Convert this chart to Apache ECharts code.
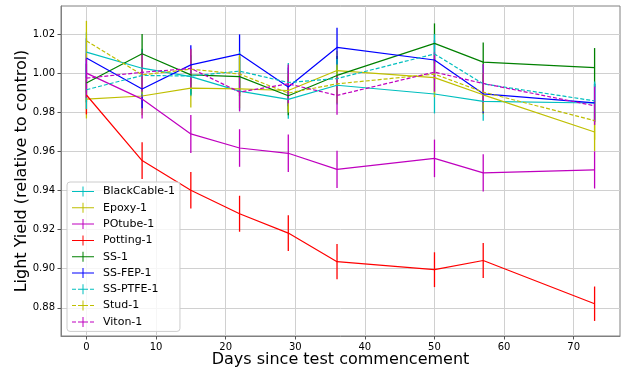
<!DOCTYPE html>
<html><head><meta charset="utf-8">
<script src="https://cdn.jsdelivr.net/npm/echarts@6/dist/echarts.min.js"></script>
<style>html,body{margin:0;padding:0;background:#fff}#c{width:621px;height:371px}</style>
</head><body><div id="c"></div>
<script>
const days = [0, 8, 15, 22, 29, 36, 50, 57, 73];

const blackCable = [1.0107, 1.0025, 0.9982, 0.9908, 0.9866, 0.9938, 0.9893, 0.9855, 0.9847];
const epoxy      = [0.9867, 0.9883, 0.9923, 0.9919, 0.9911, 1.0013, 0.9977, 0.9889, 0.9699];
const poTube     = [1.0000, 0.9867, 0.9689, 0.9617, 0.9590, 0.9508, 0.9564, 0.9490, 0.9505];
const potting    = [0.9888, 0.9553, 0.9401, 0.9281, 0.9182, 0.9036, 0.8995, 0.9042, 0.8821];
const ss         = [0.9949, 1.0099, 0.9991, 0.9982, 0.9884, 0.9988, 1.0152, 1.0056, 1.0028];
const ssFep      = [1.0077, 0.9919, 1.0042, 1.0097, 0.9929, 1.0131, 1.0067, 0.9894, 0.9848];
const ssPtfe     = [0.9915, 0.9988, 0.9985, 1.0010, 0.9952, 0.9972, 1.0098, 0.9945, 0.9858];
const stud       = [1.0165, 0.9991, 1.0020, 0.9995, 0.9898, 0.9945, 0.9995, 0.9903, 0.9757];
const viton      = [0.9974, 1.0004, 1.0024, 0.9903, 0.9945, 0.9886, 1.0005, 0.9947, 0.9833];

const blackCableErr = [0.0101, 0.0100, 0.0100, 0.0099, 0.0099, 0.0099, 0.0099, 0.0099, 0.0098];
const epoxyErr      = [0.0099, 0.0099, 0.0099, 0.0099, 0.0099, 0.0100, 0.0100, 0.0099, 0.0097];
const poTubeErr     = [0.0100, 0.0099, 0.0097, 0.0096, 0.0096, 0.0095, 0.0096, 0.0095, 0.0095];
const pottingErr    = [0.0099, 0.0094, 0.0093, 0.0092, 0.0091, 0.0090, 0.0089, 0.0090, 0.0088];
const ssErr         = [0.0099, 0.0101, 0.0100, 0.0100, 0.0099, 0.0100, 0.0102, 0.0101, 0.0100];
const ssFepErr      = [0.0101, 0.0099, 0.0100, 0.0101, 0.0099, 0.0101, 0.0101, 0.0099, 0.0098];
const ssPtfeErr     = [0.0099, 0.0100, 0.0100, 0.0100, 0.0100, 0.0100, 0.0101, 0.0099, 0.0099];
const studErr       = [0.0102, 0.0100, 0.0100, 0.0100, 0.0099, 0.0099, 0.0100, 0.0099, 0.0098];
const vitonErr      = [0.0100, 0.0100, 0.0100, 0.0099, 0.0099, 0.0099, 0.0100, 0.0099, 0.0098];

const seriesNames = ['BlackCable-1', 'Epoxy-1', 'POtube-1', 'Potting-1', 'SS-1', 'SS-FEP-1', 'SS-PTFE-1', 'Stud-1', 'Viton-1'];
const xTicks = [0, 10, 20, 30, 40, 50, 60, 70];
const yTicks = [0.88, 0.90, 0.92, 0.94, 0.96, 0.98, 1.00, 1.02];

const values = [blackCable, epoxy, poTube, potting, ss, ssFep, ssPtfe, stud, viton];
const errors = [blackCableErr, epoxyErr, poTubeErr, pottingErr, ssErr, ssFepErr, ssPtfeErr, studErr, vitonErr];
const colors = ['#00bfbf', '#bfbf00', '#bf00bf', '#ff0000', '#008000', '#0000ff', '#00bfbf', '#bfbf00', '#bf00bf'];
const dashed = [false, false, false, false, false, false, true, true, true];

const solidIcon = 'path://M0,4.5h22v1h-22Z M10.5,0h1v10h-1Z';
const dashIcon = 'path://M0,4.5h4v1h-4Z M6,4.5h4.5v1h-4.5Z M10.5,0h1v10h-1Z M11.5,4.5h4.5v1h-4.5Z M18,4.5h4v1h-4Z';

const FONT = 'DejaVu Sans';
const lineSeries = [];
const barSeries = [];
seriesNames.forEach((name, i) => {
  const col = colors[i];
  lineSeries.push({
    name: name,
    type: 'line',
    data: days.map((d, j) => [d, values[i][j]]),
    symbol: 'none',
    color: col,
    itemStyle: { color: col },
    lineStyle: { color: col, width: 1.2, type: dashed[i] ? [4, 2] : 'solid' },
    animation: false,
    z: 3
  });
  barSeries.push({
    id: 'err' + i,
    type: 'custom',
    data: days.map((d, j) => [d, values[i][j], errors[i][j]]),
    dimensions: ['x', 'y', 'e'],
    encode: { x: 0, y: 1 },
    color: col,
    itemStyle: { color: col },
    silent: true,
    animation: false,
    z: 3,
    renderItem: function (params, api) {
      const x = api.value(0), y = api.value(1), e = api.value(2);
      const p1 = api.coord([x, y - e]);
      const p2 = api.coord([x, y + e]);
      return {
        type: 'line',
        shape: { x1: p1[0], y1: p1[1], x2: p2[0], y2: p2[1] },
        style: { stroke: col, fill: null, lineWidth: 1.3 }
      };
    }
  });
});

const chart = echarts.init(document.getElementById('c'), null, { renderer: 'canvas' });
chart.setOption({
  animation: false,
  backgroundColor: '#ffffff',
  grid: { left: 61, right: 1, top: 6, bottom: 35, show: true, borderColor: '#808080', borderWidth: 1, outerBoundsMode: 'none', containLabel: false },
  legend: {
    data: seriesNames.map((n, i) => ({ name: n, icon: dashed[i] ? dashIcon : solidIcon })),
    orient: 'vertical',
    left: 67, top: 182,
    itemWidth: 22, itemHeight: 10, itemGap: 5.3,
    padding: [4, 5, 4, 5],
    backgroundColor: 'rgba(255,255,255,0.8)',
    borderColor: '#cccccc', borderWidth: 1, borderRadius: 3,
    itemStyle: { borderWidth: 0 },
    textStyle: { fontSize: 11, fontFamily: FONT, color: '#000', padding: [0, 0, 0, 4] },
    selectedMode: false
  },
  xAxis: {
    type: 'value', min: -3.65, max: 76.65,
    name: 'Days since test commencement', nameLocation: 'middle', nameGap: 16, nameMoveOverlap: false,
    nameTextStyle: { fontSize: 16, fontFamily: FONT, color: '#000' },
    axisLine: { show: true, onZero: false, lineStyle: { color: '#808080' } },
    axisTick: { show: true, inside: false, length: 3.5, lineStyle: { color: '#555' }, customValues: xTicks },
    axisLabel: { customValues: xTicks, fontSize: 10, fontFamily: FONT, color: '#000', margin: 6 },
    splitLine: { show: true, lineStyle: { color: '#d0d0d0', width: 1 } }
  },
  yAxis: {
    type: 'value', min: 0.8656, max: 1.0343,
    name: 'Light Yield (relative to control)', nameLocation: 'middle', nameGap: 31, nameMoveOverlap: false,
    nameTextStyle: { fontSize: 16, fontFamily: FONT, color: '#000' },
    axisLine: { show: true, onZero: false, lineStyle: { color: '#808080' } },
    axisTick: { show: true, inside: false, length: 3.5, lineStyle: { color: '#555' }, customValues: yTicks },
    axisLabel: { customValues: yTicks, fontSize: 10, fontFamily: FONT, color: '#000', margin: 6, formatter: v => v.toFixed(2) },
    splitLine: { show: true, lineStyle: { color: '#d0d0d0', width: 1 } }
  },
  series: lineSeries.concat(barSeries)
});
</script>
</body></html>
